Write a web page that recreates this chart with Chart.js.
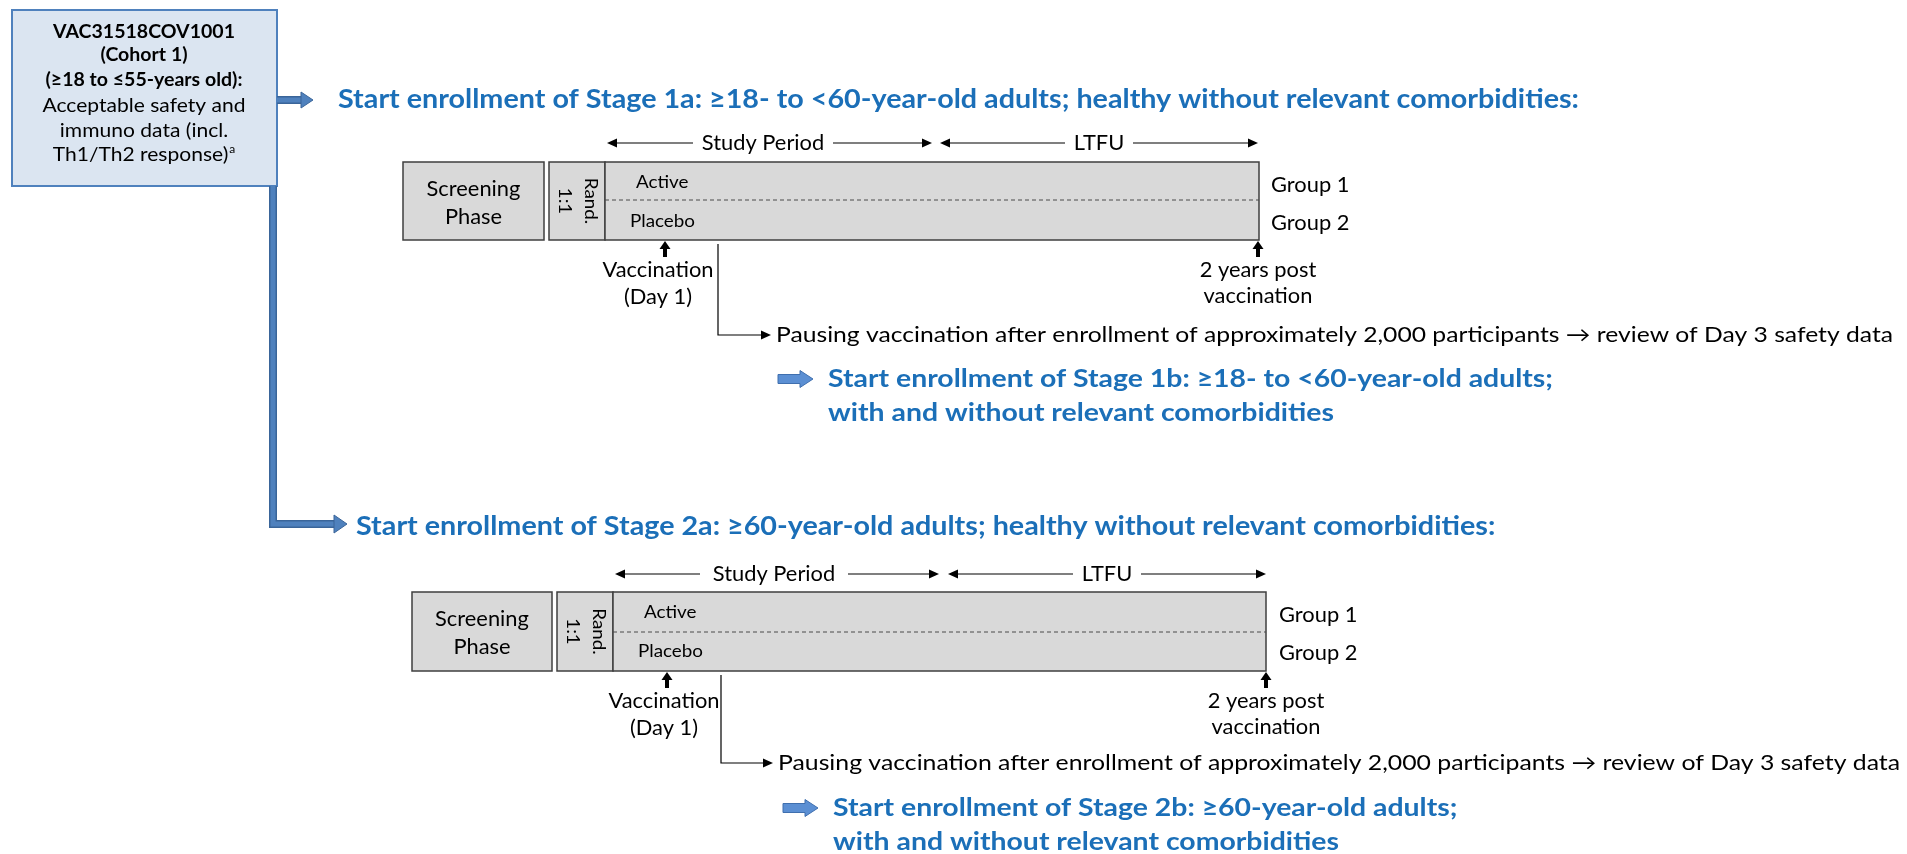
<!DOCTYPE html>
<html><head><meta charset="utf-8">
<script src="https://cdn.jsdelivr.net/npm/chart.js@4.4.0/dist/chart.umd.min.js"></script>
<style>html,body{margin:0;padding:0;background:#fff;overflow:hidden}#wrap{width:1907px;height:854px}canvas{display:block}</style>
</head><body><div id="wrap"><canvas id="c" width="1907" height="854" style="width:1907px;height:854px"></canvas></div>
<script>
// ---------- content (text) ----------
const cohortLines = ['VAC31518COV1001', '(Cohort 1)', '(\u226518 to \u226455-years old):', 'Acceptable safety and', 'immuno data (incl.', 'Th1/Th2 response)'];
const cohortBold = [true, true, true, false, false, false];
const cohortFootnote = 'a';
const stageHeaders = [
  'Start enrollment of Stage 1a: \u226518- to <60-year-old adults; healthy without relevant comorbidities:',
  'Start enrollment of Stage 2a: \u226560-year-old adults; healthy without relevant comorbidities:'
];
const stageNext = [
  ['Start enrollment of Stage 1b: \u226518- to <60-year-old adults;', 'with and without relevant comorbidities'],
  ['Start enrollment of Stage 2b: \u226560-year-old adults;', 'with and without relevant comorbidities']
];
const pauseText = 'Pausing vaccination after enrollment of approximately 2,000 participants \u2192 review of Day 3 safety data';
const periodNames = ['Study Period', 'LTFU'];
const armNames = ['Active', 'Placebo'];
const groupNames = ['Group 1', 'Group 2'];
const startLabel = ['Vaccination', '(Day 1)'];
const endLabel = ['2 years post', 'vaccination'];
const screenLabel = ['Screening', 'Phase'];
const randLabel = ['Rand.', '1:1'];

// ---------- layout (diagram coordinates, 0..1907 x 0..854) ----------
const cohortBox = { l: 12, r: 277, t: 10, b: 186, cx: 144, lineY: [32, 55, 80, 106, 131, 155] };
const blueTop = { x0: 277, x1: 313, y: 100 };
const blueElbow = { x: 273, y0: 186, y1: 524, x1: 347 };
const stages = [
  { headerX: 338, headerY: 100, periodY: 143, sp: [607, 693, 833, 932], lt: [940, 1065, 1133, 1258],
    scrL: 403, scrR: 544, randL: 549, randR: 605, barR: 1259, top: 162, bot: 240, dash: 200,
    vaccX: 665, vaccTextX: 658, endX: 1258, groupX: 1271, connX: 718, pauseY: 335, pauseX: 776, pauseR: 1893,
    nextL: 778, nextR: 813, nextX: 828, nextY: 379, nextY2: 413 },
  { headerX: 356, headerY: 527, periodY: 574, sp: [615, 700, 848, 939], lt: [948, 1073, 1141, 1266],
    scrL: 412, scrR: 552, randL: 557, randR: 613, barR: 1266, top: 592, bot: 671, dash: 632,
    vaccX: 667, vaccTextX: 664, endX: 1266, groupX: 1279, connX: 721, pauseY: 763, pauseX: 778, pauseR: 1900,
    nextL: 783, nextR: 818, nextX: 833, nextY: 808, nextY2: 842 }
];
const C = { blueText: '#1b6fb8', blueFill: '#4f81bd', blueDark: '#3a6599', boxFill: '#dbe5f1',
  gray: '#d9d9d9', grayLine: '#3f3f3f', ink: '#000000', dash: '#4a4a4a', blockFill: '#5b8fd3', blockLine: '#3f6fae' };
const FONT = 'Lato, "Open Sans", sans-serif';
const fontClasses = {
  header: { font: 'bold 26px ' + FONT, ref: stageHeaders[0], w: 1241 },
  next:   { font: 'bold 24px ' + FONT, ref: stageNext[0][0], w: 725 },
  body:   { font: '21px ' + FONT, ref: 'Vaccination', w: 111 },
  small:  { font: '17px ' + FONT, ref: 'Placebo', w: 65 },
  boxB:   { font: 'bold 19px ' + FONT, ref: cohortLines[0], w: 182 },
  boxR:   { font: '19px ' + FONT, ref: cohortLines[3], w: 203 }
};

// ---------- line datasets ----------
const datasets = [];
function lineDs(points, style) {
  datasets.push(Object.assign({ type: 'scatter', data: points, showLine: true, pointRadius: 0, pointHoverRadius: 0,
    borderCapStyle: 'butt', borderJoinStyle: 'miter', fill: false, clip: false, tension: 0 }, style));
}
const blueOuter = { borderColor: C.blueDark, borderWidth: 8, order: 5 };
const blueInner = { borderColor: C.blueFill, borderWidth: 5, order: 4 };
const topPts = [{ x: blueTop.x0, y: blueTop.y }, { x: blueTop.x1 - 11, y: blueTop.y }];
const elbowPts = [{ x: blueElbow.x, y: blueElbow.y0 }, { x: blueElbow.x, y: blueElbow.y1 }, { x: blueElbow.x1 - 12, y: blueElbow.y1 }];
lineDs(topPts, blueOuter); lineDs(topPts, blueInner);
lineDs(elbowPts, blueOuter); lineDs(elbowPts, blueInner);
stages.forEach(s => {
  const thin = { borderColor: C.ink, borderWidth: 1.2, order: 3 };
  lineDs([{ x: s.sp[0] + 8, y: s.periodY }, { x: s.sp[1], y: s.periodY }], thin);
  lineDs([{ x: s.sp[2], y: s.periodY }, { x: s.sp[3] - 8, y: s.periodY }], thin);
  lineDs([{ x: s.lt[0] + 8, y: s.periodY }, { x: s.lt[1], y: s.periodY }], thin);
  lineDs([{ x: s.lt[2], y: s.periodY }, { x: s.lt[3] - 8, y: s.periodY }], thin);
  lineDs([{ x: s.connX, y: s.bot + 4 }, { x: s.connX, y: s.pauseY }, { x: s.pauseX - 14, y: s.pauseY }],
    { borderColor: C.ink, borderWidth: 1.2, order: 3 });
  lineDs([{ x: s.randR, y: s.dash }, { x: s.barR, y: s.dash }],
    { borderColor: C.dash, borderWidth: 1, borderDash: [4, 3], order: 3 });
});

// ---------- drawing helpers ----------
const kCache = {};
function classK(ctx, name) {
  if (kCache[name] == null) {
    const fc = fontClasses[name];
    ctx.save(); ctx.font = fc.font; kCache[name] = fc.w / ctx.measureText(fc.ref).width; ctx.restore();
  }
  return kCache[name];
}
function drawText(ctx, s, x, y, o) {
  ctx.save();
  const fc = fontClasses[o.cls];
  ctx.font = fc.font; ctx.fillStyle = o.color || C.ink; ctx.textBaseline = 'middle'; ctx.textAlign = 'left';
  const w = ctx.measureText(s).width;
  const k = o.width ? o.width / w : classK(ctx, o.cls);
  const dw = w * k;
  const x0 = o.align === 'center' ? x - dw / 2 : x;
  ctx.translate(x0, y); ctx.scale(k, 1);
  ctx.fillText(s, 0, 0);
  ctx.restore();
  return dw;
}
function poly(ctx, pts, fill, stroke, lw) {
  ctx.beginPath(); pts.forEach((p, i) => i ? ctx.lineTo(p[0], p[1]) : ctx.moveTo(p[0], p[1])); ctx.closePath();
  ctx.fillStyle = fill; ctx.fill();
  if (stroke) { ctx.strokeStyle = stroke; ctx.lineWidth = lw || 1; ctx.stroke(); }
}
function rect(ctx, X, Y, l, t, r, b, fill, stroke, lw) {
  const x0 = X(l), y0 = Y(t), x1 = X(r), y1 = Y(b);
  ctx.fillStyle = fill; ctx.fillRect(x0, y0, x1 - x0, y1 - y0);
  ctx.strokeStyle = stroke; ctx.lineWidth = lw; ctx.strokeRect(x0, y0, x1 - x0, y1 - y0);
}

const diagramPlugin = {
  id: 'diagram',
  beforeDatasetsDraw(chart) {
    const ctx = chart.ctx, xs = chart.scales.x, ys = chart.scales.y;
    const X = v => xs.getPixelForValue(v), Y = v => ys.getPixelForValue(v);
    ctx.save();
    rect(ctx, X, Y, cohortBox.l, cohortBox.t, cohortBox.r, cohortBox.b, C.boxFill, C.blueFill, 2);
    stages.forEach(s => {
      rect(ctx, X, Y, s.scrL, s.top, s.scrR, s.bot, C.gray, C.grayLine, 1.5);
      rect(ctx, X, Y, s.randL, s.top, s.randR, s.bot, C.gray, C.grayLine, 1.5);
      rect(ctx, X, Y, s.randR, s.top, s.barR, s.bot, C.gray, C.grayLine, 1.5);
    });
    ctx.restore();
  },
  afterDatasetsDraw(chart) {
    const ctx = chart.ctx, xs = chart.scales.x, ys = chart.scales.y;
    const X = v => xs.getPixelForValue(v), Y = v => ys.getPixelForValue(v);
    ctx.save();
    // blue arrowheads
    poly(ctx, [[X(blueTop.x1), Y(blueTop.y)], [X(blueTop.x1 - 12), Y(blueTop.y - 8)], [X(blueTop.x1 - 12), Y(blueTop.y + 8)]], C.blueFill, C.blueDark, 1);
    poly(ctx, [[X(blueElbow.x1), Y(blueElbow.y1)], [X(blueElbow.x1 - 13), Y(blueElbow.y1 - 9)], [X(blueElbow.x1 - 13), Y(blueElbow.y1 + 9)]], C.blueFill, C.blueDark, 1);
    // cohort box text
    cohortLines.forEach((t, i) => {
      if (i === cohortLines.length - 1) {
        ctx.save(); ctx.font = fontClasses.boxR.font;
        const w = ctx.measureText(t).width * classK(ctx, 'boxR'); ctx.restore();
        const x0 = X(cohortBox.cx) - (w + 7) / 2;
        drawText(ctx, t, x0, Y(cohortBox.lineY[i]), { cls: 'boxR' });
        ctx.save(); ctx.font = '12px ' + FONT; ctx.fillStyle = C.ink; ctx.textBaseline = 'middle';
        ctx.fillText(cohortFootnote, x0 + w + 1, Y(cohortBox.lineY[i] - 6)); ctx.restore();
      } else {
        drawText(ctx, t, X(cohortBox.cx), Y(cohortBox.lineY[i]), { cls: cohortBold[i] ? 'boxB' : 'boxR', align: 'center' });
      }
    });
    stages.forEach((s, si) => {
      drawText(ctx, stageHeaders[si], X(s.headerX), Y(s.headerY), { cls: 'header', color: C.blueText });
      const head = (tip, dir, y) => poly(ctx, [[X(tip), Y(y)], [X(tip - dir * 10), Y(y - 4.5)], [X(tip - dir * 10), Y(y + 4.5)]], C.ink);
      head(s.sp[0], -1, s.periodY); head(s.sp[3], 1, s.periodY);
      head(s.lt[0], -1, s.periodY); head(s.lt[3], 1, s.periodY);
      head(s.pauseX - 5, 1, s.pauseY);
      drawText(ctx, periodNames[0], X((s.sp[1] + s.sp[2]) / 2), Y(s.periodY), { cls: 'body', align: 'center' });
      drawText(ctx, periodNames[1], X((s.lt[1] + s.lt[2]) / 2), Y(s.periodY), { cls: 'body', align: 'center' });
      const scx = (s.scrL + s.scrR) / 2;
      drawText(ctx, screenLabel[0], X(scx), Y(s.top + 27), { cls: 'body', align: 'center' });
      drawText(ctx, screenLabel[1], X(scx), Y(s.top + 55), { cls: 'body', align: 'center' });
      const my = (s.top + s.bot) / 2;
      [[randLabel[0], s.randR - 15], [randLabel[1], s.randR - 41]].forEach(([t, x]) => {
        ctx.save(); ctx.translate(X(x), Y(my)); ctx.rotate(Math.PI / 2);
        drawText(ctx, t, 0, 0, { cls: 'small', align: 'center' });
        ctx.restore();
      });
      drawText(ctx, armNames[0], X(s.randR + 31), Y(s.top + 21), { cls: 'small' });
      drawText(ctx, armNames[1], X(s.randR + 25), Y(s.top + 60), { cls: 'small' });
      drawText(ctx, groupNames[0], X(s.groupX), Y(s.top + 23), { cls: 'body' });
      drawText(ctx, groupNames[1], X(s.groupX), Y(s.top + 61), { cls: 'body' });
      [s.vaccX, s.endX].forEach(ax => {
        ctx.fillStyle = C.ink;
        ctx.fillRect(X(ax - 2), Y(s.bot + 8), X(ax + 2) - X(ax - 2), Y(s.bot + 17) - Y(s.bot + 8));
        poly(ctx, [[X(ax), Y(s.bot + 1)], [X(ax - 5.5), Y(s.bot + 9)], [X(ax + 5.5), Y(s.bot + 9)]], C.ink);
      });
      drawText(ctx, startLabel[0], X(s.vaccTextX), Y(s.bot + 30), { cls: 'body', align: 'center' });
      drawText(ctx, startLabel[1], X(s.vaccTextX), Y(s.bot + 57), { cls: 'body', align: 'center' });
      drawText(ctx, endLabel[0], X(s.endX), Y(s.bot + 30), { cls: 'body', align: 'center' });
      drawText(ctx, endLabel[1], X(s.endX), Y(s.bot + 56), { cls: 'body', align: 'center' });
      drawText(ctx, pauseText, X(s.pauseX), Y(s.pauseY), { cls: 'body', width: X(s.pauseR) - X(s.pauseX) });
      const L = s.nextL, R = s.nextR, y = s.nextY;
      poly(ctx, [[X(L), Y(y - 4.5)], [X(R - 13), Y(y - 4.5)], [X(R - 13), Y(y - 8.5)], [X(R), Y(y)],
        [X(R - 13), Y(y + 8.5)], [X(R - 13), Y(y + 4.5)], [X(L), Y(y + 4.5)]], C.blockFill, C.blockLine, 1);
      drawText(ctx, stageNext[si][0], X(s.nextX), Y(s.nextY), { cls: 'next', color: C.blueText });
      drawText(ctx, stageNext[si][1], X(s.nextX), Y(s.nextY2), { cls: 'next', color: C.blueText });
    });
    ctx.restore();
  }
};

new Chart(document.getElementById('c'), {
  type: 'scatter',
  data: { datasets },
  options: {
    responsive: false, animation: false, events: [],
    layout: { padding: 0 },
    plugins: { legend: { display: false }, tooltip: { enabled: false }, title: { display: false } },
    scales: {
      x: { type: 'linear', min: 0, max: 1907, display: false },
      y: { type: 'linear', min: 0, max: 854, reverse: true, display: false }
    }
  },
  plugins: [diagramPlugin]
});
</script></body></html>
